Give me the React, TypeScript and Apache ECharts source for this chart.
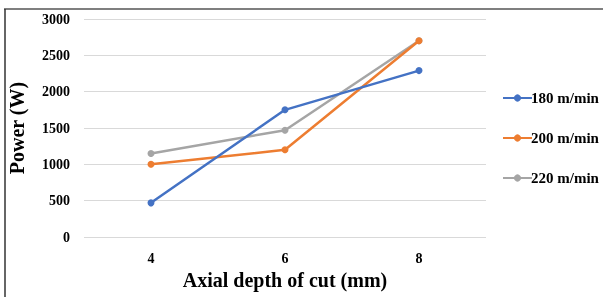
import React, { useEffect, useRef } from "react";
import * as echarts from "echarts";

const categories = ["4", "6", "8"];
const seriesNames = ["180 m/min", "200 m/min", "220 m/min"];
const s180 = [470, 1750, 2290];
const s200 = [1000, 1200, 2700];
const s220 = [1150, 1470, 2700];
const colors = ["#4472C4", "#ED7D31", "#A5A5A5"];

export default function App() {
  const ref = useRef<HTMLDivElement>(null);
  useEffect(() => {
    const chart = echarts.init(ref.current!, null, { renderer: "svg" });
    const font = "'Liberation Serif', 'Times New Roman', serif";
    const data = [s180, s200, s220];
    chart.setOption({
      animation: false,
      textStyle: { fontFamily: font },
      grid: { left: 84, right: 120, top: 19, bottom: 60, containLabel: false, outerBoundsMode: "none" },
      xAxis: {
        type: "category",
        data: categories,
        boundaryGap: true,
        axisLine: { show: false },
        axisTick: { show: false },
        axisLabel: { color: "#000", fontWeight: "bold", fontSize: 14, fontFamily: font, margin: 14 },
        name: "Axial depth of cut (mm)",
        nameLocation: "middle",
        nameGap: 32,
        nameTextStyle: { color: "#000", fontWeight: "bold", fontSize: 20, fontFamily: font },
      },
      yAxis: {
        type: "value",
        min: 0,
        max: 3000,
        interval: 500,
        axisLine: { show: false },
        axisTick: { show: false },
        splitLine: { lineStyle: { color: "#d9d9d9", width: 1 } },
        axisLabel: {
          color: "#000",
          fontWeight: "bold",
          fontSize: 14,
          fontFamily: font,
          margin: 14,
          formatter: (v: number) => String(v),
        },
        name: "Power (W)",
        nameLocation: "middle",
        nameGap: 57,
        nameTextStyle: { color: "#000", fontWeight: "bold", fontSize: 20, fontFamily: font },
      },
      legend: {
        orient: "vertical",
        left: 497,
        top: 85,
        itemGap: 24,
        itemWidth: 29,
        itemHeight: 9,
        textStyle: {
          color: "#000",
          fontWeight: "bold",
          fontSize: 15,
          fontFamily: font,
          padding: [0, 0, 0, -6],
          lineHeight: 16,
        },
        data: seriesNames,
      },
      series: seriesNames.map((n, i) => ({
        name: n,
        type: "line",
        data: data[i],
        color: colors[i],
        symbol: "circle",
        symbolSize: 7,
        lineStyle: { width: 2.5, color: colors[i] },
        itemStyle: { color: colors[i] },
        z: 3 - i,
      })),
      graphic: [
        { type: "line", shape: { x1: 4, y1: 9, x2: 603, y2: 9 }, style: { stroke: "#555", lineWidth: 1.5 } },
        { type: "line", shape: { x1: 5, y1: 9, x2: 5, y2: 297 }, style: { stroke: "#333", lineWidth: 1.5 } },
      ],
    });
    return () => chart.dispose();
  }, []);
  return <div ref={ref} style={{ position: "fixed", left: 0, top: 0, width: 606, height: 297 }} />;
}
